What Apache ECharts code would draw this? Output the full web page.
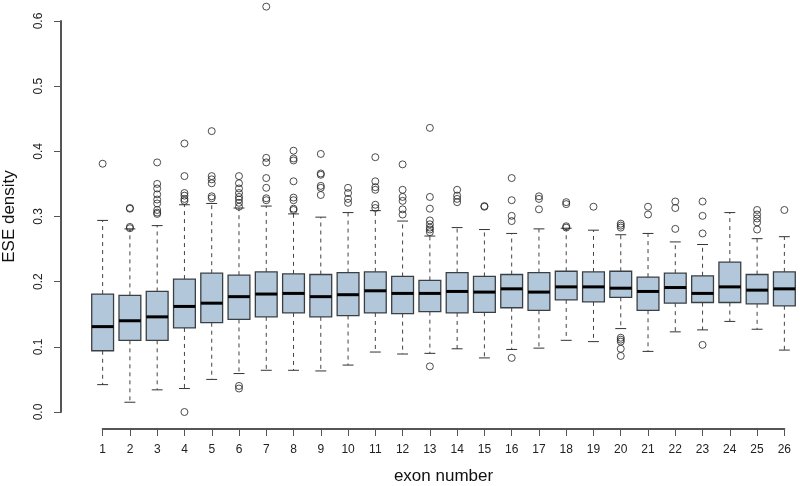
<!DOCTYPE html>
<html>
<head>
<meta charset="utf-8">
<script src="https://cdn.jsdelivr.net/npm/echarts@6/dist/echarts.min.js"></script>
<style>
  html, body { margin: 0; padding: 0; background: #ffffff; }
  #chart { width: 800px; height: 486px; }
</style>
</head>
<body>
<div id="chart"></div>
<script>
// ---- data ----
const exons = ['1','2','3','4','5','6','7','8','9','10','11','12','13','14','15','16','17','18','19','20','21','22','23','24','25','26'];
const whiskerLow  = [0.042,0.015,0.034,0.036,0.050,0.059,0.064,0.064,0.063,0.072,0.092,0.089,0.090,0.097,0.083,0.096,0.098,0.110,0.108,0.128,0.093,0.123,0.126,0.139,0.127,0.095];
const q1          = [0.094,0.110,0.110,0.129,0.137,0.142,0.146,0.152,0.146,0.148,0.152,0.151,0.154,0.152,0.153,0.160,0.156,0.172,0.169,0.176,0.156,0.167,0.168,0.168,0.166,0.163];
const medians     = [0.131,0.140,0.146,0.162,0.167,0.177,0.181,0.182,0.177,0.180,0.186,0.182,0.182,0.185,0.184,0.189,0.184,0.192,0.192,0.190,0.185,0.191,0.182,0.192,0.187,0.189];
const q3          = [0.181,0.179,0.185,0.204,0.213,0.210,0.215,0.212,0.211,0.214,0.215,0.208,0.202,0.214,0.208,0.211,0.214,0.216,0.215,0.216,0.207,0.213,0.209,0.230,0.211,0.215];
const whiskerHigh = [0.294,0.281,0.286,0.318,0.320,0.313,0.316,0.304,0.299,0.306,0.309,0.293,0.270,0.283,0.280,0.274,0.281,0.282,0.279,0.272,0.274,0.261,0.257,0.306,0.266,0.269];
const outliers = [
  [0.381],
  [0.313,0.312,0.284,0.282],
  [0.383,0.350,0.343,0.334,0.326,0.320,0.310,0.306,0.304],
  [0.412,0.362,0.336,0.332,0.327,0.324,0.000],
  [0.431,0.362,0.357,0.351,0.331,0.328],
  [0.362,0.351,0.343,0.336,0.330,0.326,0.321,0.315,0.040,0.036],
  [0.622,0.390,0.383,0.359,0.344,0.328,0.325],
  [0.401,0.389,0.386,0.354,0.329,0.325,0.312,0.310],
  [0.396,0.366,0.364,0.347,0.344,0.333],
  [0.344,0.336,0.327,0.321],
  [0.391,0.354,0.345,0.341,0.318,0.313],
  [0.380,0.341,0.330,0.324,0.311,0.303],
  [0.436,0.330,0.312,0.294,0.288,0.283,0.280,0.276,0.070],
  [0.341,0.332,0.327,0.322],
  [0.316,0.315],
  [0.359,0.325,0.301,0.293,0.083],
  [0.331,0.327,0.311],
  [0.322,0.319,0.285,0.283],
  [0.315],
  [0.289,0.286,0.283,0.114,0.111,0.108,0.097,0.086],
  [0.315,0.303],
  [0.323,0.313,0.281],
  [0.323,0.301,0.274,0.103],
  [],
  [0.310,0.303,0.297,0.291,0.280],
  [0.310]
];
const yTickLabels = ['0.0','0.1','0.2','0.3','0.4','0.5','0.6'];
const xTitle = 'exon number';
const yTitle = 'ESE density';

// ---- build series data from the arrays ----
const boxData = exons.map((e, i) => [Number(e), whiskerLow[i], q1[i], medians[i], q3[i], whiskerHigh[i]]);
const outlierData = [];
exons.forEach((e, i) => outliers[i].forEach(v => outlierData.push([Number(e), v])));

const FONT = 'Liberation Sans, Arial, sans-serif';
const AXIS_COLOR = '#555';

function renderBox(params, api) {
  const x = api.value(0);
  const pLo = api.coord([x, api.value(1)]);
  const pQ1 = api.coord([x, api.value(2)]);
  const pMed = api.coord([x, api.value(3)]);
  const pQ3 = api.coord([x, api.value(4)]);
  const pHi = api.coord([x, api.value(5)]);
  const unit = api.size([1, 0])[0];
  const bw = unit * 0.8;
  const sw = bw * 0.5;
  const cx = pMed[0];
  const dash = { stroke: '#444', lineWidth: 1, lineDash: [4, 4] };
  const solid = { stroke: '#333', lineWidth: 1 };
  return {
    type: 'group',
    children: [
      { type: 'line', shape: { x1: cx, y1: pQ3[1], x2: cx, y2: pHi[1] }, style: dash },
      { type: 'line', shape: { x1: cx, y1: pQ1[1], x2: cx, y2: pLo[1] }, style: dash },
      { type: 'line', shape: { x1: cx - sw / 2, y1: pHi[1], x2: cx + sw / 2, y2: pHi[1] }, style: solid },
      { type: 'line', shape: { x1: cx - sw / 2, y1: pLo[1], x2: cx + sw / 2, y2: pLo[1] }, style: solid },
      { type: 'rect', shape: { x: cx - bw / 2, y: pQ3[1], width: bw, height: pQ1[1] - pQ3[1] },
        style: { fill: '#b2c8da', stroke: '#3a3f44', lineWidth: 1.3 } },
      { type: 'line', shape: { x1: cx - bw / 2, y1: pMed[1], x2: cx + bw / 2, y2: pMed[1] },
        style: { stroke: '#000', lineWidth: 3 } }
    ]
  };
}

const chart = echarts.init(document.getElementById('chart'), null, { renderer: 'canvas' });
chart.setOption({
  backgroundColor: '#ffffff',
  animation: false,
  textStyle: { fontFamily: FONT },
  grid: [
    { left: 89, right: 2, top: 21, bottom: 74, outerBoundsMode: 'none' },
    { left: 102.7, right: 15.7, top: 21, bottom: 74, outerBoundsMode: 'none' }
  ],
  xAxis: [
    { type: 'value', gridIndex: 0, min: 0.5, max: 26.5, show: false },
    {
      type: 'value', gridIndex: 1, min: 1, max: 26, interval: 1, offset: 17,
      position: 'bottom', show: true,
      axisLine: { show: true, onZero: false, lineStyle: { color: AXIS_COLOR, width: 2 } },
      axisTick: { show: true, length: 7, lineStyle: { color: AXIS_COLOR } },
      splitLine: { show: false },
      axisLabel: { color: '#222', fontSize: 12, margin: 15, fontFamily: FONT,
        formatter: v => exons[Math.round(v) - 1] },
      name: xTitle, nameLocation: 'middle', nameGap: 39,
      nameTextStyle: { fontSize: 17, color: '#111', fontFamily: FONT }
    }
  ],
  yAxis: [
    {
      type: 'value', gridIndex: 0, min: 0, max: 0.6, interval: 0.1, offset: 28,
      position: 'left', show: true,
      axisLine: { show: true, onZero: false, lineStyle: { color: AXIS_COLOR, width: 2 } },
      axisTick: { show: true, length: 7, lineStyle: { color: AXIS_COLOR } },
      splitLine: { show: false },
      axisLabel: { color: '#222', fontSize: 12, margin: 16, rotate: 90, fontFamily: FONT,
        formatter: v => yTickLabels[Math.round(v * 10)] },
      name: yTitle, nameLocation: 'middle', nameGap: 43,
      nameTextStyle: { fontSize: 17, color: '#111', fontFamily: FONT }
    },
    { type: 'value', gridIndex: 1, min: 0, max: 0.6, show: false }
  ],
  series: [
    {
      type: 'custom', xAxisIndex: 0, yAxisIndex: 0,
      renderItem: renderBox, data: boxData, clip: false,
      encode: { x: 0, y: [1, 2, 3, 4, 5] }, z: 2
    },
    {
      type: 'scatter', xAxisIndex: 0, yAxisIndex: 0, data: outlierData, clip: false,
      symbol: 'circle', symbolSize: 7,
      itemStyle: { color: 'rgba(0,0,0,0)', borderColor: '#222', borderWidth: 1 },
      z: 3, silent: true
    }
  ]
});
</script>
</body>
</html>
